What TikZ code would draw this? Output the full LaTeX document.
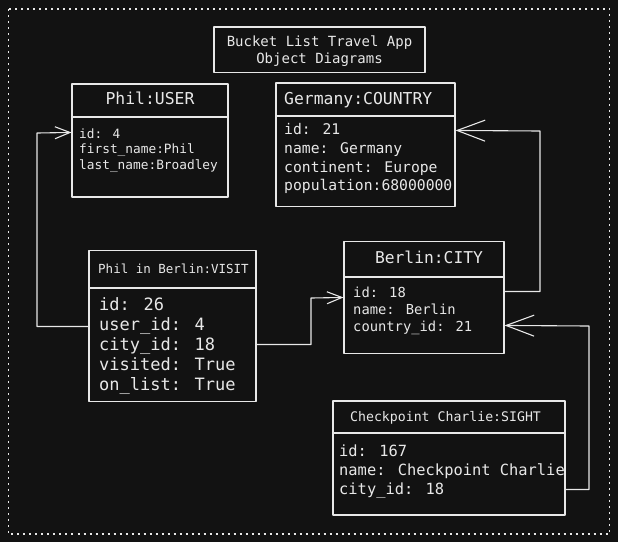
\documentclass[tikz,border=0pt]{standalone}
\usepackage{fontspec}
\setmainfont{DejaVu Sans Mono}
\usetikzlibrary{arrows.meta,calc}
\definecolor{bgc}{HTML}{121212}
\definecolor{ink}{HTML}{E8E8E8}
\begin{document}
\begin{tikzpicture}[x=1pt,y=-1pt,
  box/.style={draw=ink,line width=1.1pt,rectangle,inner sep=0pt,line join=round},
  sep/.style={draw=ink,line width=1.1pt},
  txt/.style={text=ink,inner sep=0pt,anchor=base west},
  ctxt/.style={text=ink,inner sep=0pt,anchor=base},
  wire/.style={draw=ink,line width=1.1pt,line join=round},
  arrsmall/.style={wire,-{Straight Barb[length=15pt,width=12pt]}},
  arrbig/.style={wire,-{Straight Barb[length=28pt,width=21pt]}},
  fs/.style={font=\fontsize{#1}{#1}\selectfont}
]
\fill[bgc] (0,0) rectangle (618,542);
\useasboundingbox (0,0) rectangle (618,542);
\draw[ink,line width=1.2pt,dash pattern=on 2pt off 4pt] (8.5,9) rectangle (609.5,534);

% title
\node[box,minimum width=211pt,minimum height=45.5pt] (title) at (319.5,49.75) {};
\node[ctxt,fs=14] (t1) at (319.5,46.3) {Bucket List Travel App};
\node[ctxt,fs=14] (t2) at (319.5,63) {Object Diagrams};

% USER
\node[box,minimum width=156pt,minimum height=113pt] (user) at (150,140.5) {};
\draw[sep] (72,117) -- (228,117);
\node[ctxt,fs=16.4] (uh) at (150,104.4) {Phil:USER};
\foreach \t [count=\i] in {id: 4,first\_name:Phil,last\_name:Broadley}
  \node[txt,fs=12.8] (u\i) at (79,{138.2+(\i-1)*15.5}) {\t};

% COUNTRY
\node[box,minimum width=179pt,minimum height=123.5pt] (country) at (365.5,144.75) {};
\draw[sep] (276,116) -- (455,116);
\node[txt,fs=16.4] (ch) at (284,104.4) {Germany:COUNTRY};
\foreach \t [count=\i] in {id: 21,name: Germany,continent: Europe,population:68000000}
  \node[txt,fs=14.7] (c\i) at (284,{134.2+(\i-1)*18.9}) {\t};

% CITY
\node[box,minimum width=160pt,minimum height=112pt] (city) at (424,297.5) {};
\draw[sep] (344,277) -- (504,277);
\node[ctxt,fs=16.3] (bh) at (429,263) {Berlin:CITY};
\foreach \t [count=\i] in {id: 18,name: Berlin,country\_id: 21}
  \node[txt,fs=13.8] (b\i) at (353,{297.3+(\i-1)*17.3}) {\t};

% VISIT
\node[box,minimum width=167pt,minimum height=151pt] (visit) at (172.5,326) {};
\draw[sep] (89,288) -- (256,288);
\node[txt,fs=12.5] (vh) at (98,273) {Phil in Berlin:VISIT};
\foreach \t [count=\i] in {id: 26,user\_id: 4,city\_id: 18,visited: True,on\_list: True}
  \node[txt,fs=17] (v\i) at (99,{310.6+(\i-1)*20}) {\t};

% SIGHT
\node[box,minimum width=232pt,minimum height=114pt] (sight) at (449,458) {};
\draw[sep] (333,433) -- (565,433);
\node[txt,fs=13.2] (sh) at (350,421.4) {Checkpoint Charlie:SIGHT};
\foreach \t [count=\i] in {id: 167,name: Checkpoint Charlie,city\_id: 18}
  \node[txt,fs=15.4] (s\i) at (339,{456.8+(\i-1)*18.7}) {\t};

% connectors
\draw[arrsmall] ($(visit.north west)+(0,76.5)$) -| (37,133) -- ($(user.north west)+(0,49)$);
\draw[arrsmall] ($(visit.north east)+(0,94.5)$) -| (311,298) -- ($(city.north west)+(0,56.5)$);
\draw[arrbig] ($(city.north east)+(0,50.5)$) -| (540,131) -- ($(country.north east)+(0,48)$);
\draw[arrbig] ($(sight.north east)+(0,89)$) -| (589,326) -- ($(city.north east)+(0,84.5)$);
\end{tikzpicture}
\end{document}
